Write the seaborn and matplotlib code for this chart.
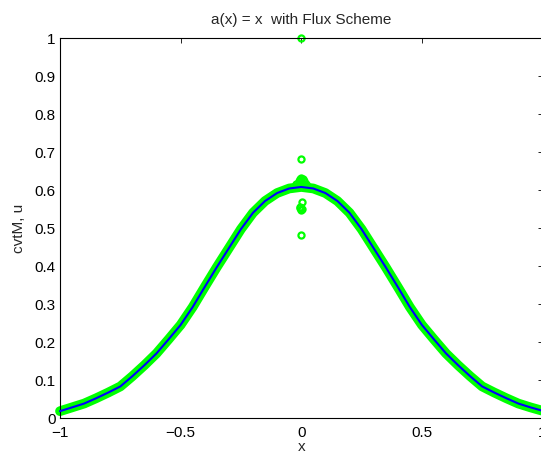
import numpy as np
import pandas as pd
import matplotlib
matplotlib.use("Agg")
import matplotlib.pyplot as plt
import seaborn as sns

# ---- data ----
x_grid = [-1.00, -0.95, -0.90, -0.85, -0.80, -0.75, -0.70, -0.65, -0.60, -0.55,
          -0.50, -0.45, -0.40, -0.35, -0.30, -0.25, -0.20, -0.15, -0.10, -0.05,
          0.00,
          0.05, 0.10, 0.15, 0.20, 0.25, 0.30, 0.35, 0.40, 0.45, 0.50,
          0.55, 0.60, 0.65, 0.70, 0.75, 0.80, 0.85, 0.90, 0.95, 1.00]
u_vals = [0.018, 0.028, 0.038, 0.052, 0.067, 0.083, 0.110, 0.139, 0.170, 0.207,
          0.245, 0.292, 0.345, 0.397, 0.447, 0.497, 0.540, 0.571, 0.592, 0.604,
          0.608,
          0.604, 0.592, 0.571, 0.540, 0.497, 0.447, 0.397, 0.345, 0.292, 0.245,
          0.207, 0.170, 0.139, 0.110, 0.083, 0.067, 0.052, 0.038, 0.028, 0.019]
# cvtM markers: same curve plus scattered values near x = 0
cvt_extra_x = [0.0, 0.0, -0.01, 0.01, 0.0, -0.02, 0.02, -0.006, 0.006, 0.005, -0.005, 0.0, 0.005, -0.005, 0.0]
cvt_extra_y = [1.0, 0.681, 0.624, 0.624, 0.632, 0.617, 0.617, 0.628, 0.628, 0.569, 0.556, 0.548, 0.549, 0.553, 0.482]

title_text = "a(x) = x  with Flux Scheme"
xlabel_text = "x"
ylabel_text = "cvtM, u"
xticks = [-1.0, -0.5, 0.0, 0.5, 1.0]
xtick_labels = ["\u22121", "\u22120.5", "0", "0.5", "1"]
yticks = [0.0, 0.1, 0.2, 0.3, 0.4, 0.5, 0.6, 0.7, 0.8, 0.9, 1.0]
ytick_labels = ["0", "0.1", "0.2", "0.3", "0.4", "0.5", "0.6", "0.7", "0.8", "0.9", "1"]

# ---- style ----
sns.set_style("white")
plt.rcParams["font.family"] = ["Liberation Sans", "DejaVu Sans"]
plt.rcParams["font.size"] = 11

GREEN = "#00ff00"
BLUE = "#0000ff"

fig = plt.figure(figsize=(5.41, 4.54), dpi=100)
ax = fig.add_axes([60 / 541, 36 / 454, 482.5 / 541, 380 / 454])

curve = pd.DataFrame({"x": x_grid, "u": u_vals})
extra = pd.DataFrame({"x": cvt_extra_x, "cvtM": cvt_extra_y})

# green band of cvtM circles
sns.lineplot(data=curve, x="x", y="u", ax=ax, estimator=None, sort=False,
             color=GREEN, lw=7.0, solid_capstyle="round", solid_joinstyle="round",
             marker="o", ms=3.5, mfc="none", mec=GREEN, mew=1.2, clip_on=False, zorder=2)
sns.lineplot(data=extra, x="x", y="cvtM", ax=ax, estimator=None, sort=False,
             color=GREEN, linestyle="none", marker="o", ms=4.4, mfc="none",
             mec=GREEN, mew=1.6, clip_on=False, zorder=2)
# blue u line
sns.lineplot(data=curve, x="x", y="u", ax=ax, estimator=None, sort=False,
             color=BLUE, lw=1.5, zorder=3, clip_on=False)

ax.set_xlim(-1, 1)
ax.set_ylim(0, 1)
ax.set_xticks(xticks)
ax.set_xticklabels(xtick_labels)
ax.set_yticks(yticks)
ax.set_yticklabels(ytick_labels)
ax.tick_params(direction="in", length=3.6, width=0.6, top=True, right=True,
               labelsize=11, colors="black")
ax.tick_params(axis="x", pad=6)
ax.tick_params(axis="y", pad=3)
for s in ax.spines.values():
    s.set_color("black")
    s.set_linewidth(0.8)
    s.set_visible(True)

ax.set_title(title_text, fontsize=11, pad=10)
ax.set_xlabel(xlabel_text, fontsize=11, labelpad=0)
ax.set_ylabel(ylabel_text, fontsize=11, labelpad=6)

fig.savefig("out.png", dpi=100)
